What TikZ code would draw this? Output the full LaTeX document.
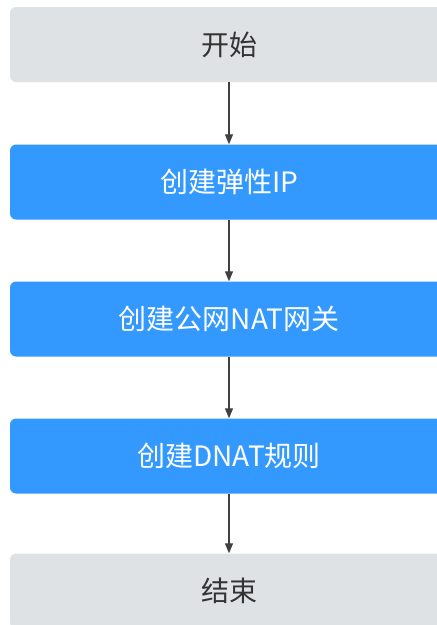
\documentclass[tikz,border=0pt]{standalone}
\usepackage{fontspec}
\newfontfamily\cjk{Noto Sans CJK SC}
\usetikzlibrary{arrows.meta}
\definecolor{boxblue}{RGB}{51,153,255}
\definecolor{boxgray}{RGB}{223,226,229}
\definecolor{txtgray}{RGB}{51,51,51}
\definecolor{arrgray}{RGB}{64,64,64}
\tikzset{
  stepbox/.style={rectangle, rounded corners=6pt, minimum width=438pt, minimum height=75pt, inner sep=0pt, font=\cjk\fontsize{28}{33}\selectfont},
  graybox/.style={stepbox, fill=boxgray, text=txtgray},
  bluebox/.style={stepbox, fill=boxblue, text=white},
  conn/.style={draw=arrgray, line width=1.3pt, -{Triangle[length=10pt,width=8pt]}}
}
\begin{document}
\begin{tikzpicture}[x=1pt,y=-1pt]
\useasboundingbox (0,0) rectangle (437,625);
\clip (0,0) rectangle (437,625);
\node[graybox] (start) at (229,44.5) {开始};
\node[bluebox] (eip) at (229,182) {创建弹性IP};
\node[bluebox] (nat) at (229,319) {创建公网NAT网关};
\node[bluebox] (dnat) at (229,456) {创建DNAT规则};
\node[graybox] (end) at (229,591) {结束};
\draw[conn] (start) -- (eip);
\draw[conn] (eip) -- (nat);
\draw[conn] (nat) -- (dnat);
\draw[conn] (dnat) -- (end);
\end{tikzpicture}
\end{document}
